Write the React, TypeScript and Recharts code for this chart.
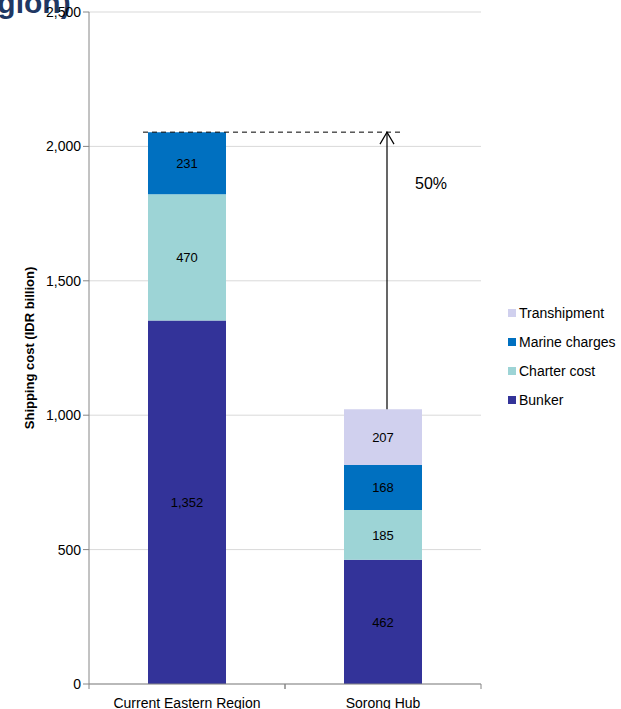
import React from 'react';
import { BarChart, Bar, XAxis, YAxis, CartesianGrid, LabelList, ReferenceLine } from 'recharts';

const categories = ['Current Eastern Region', 'Sorong Hub'];
const bunker = [1352, 462];
const charterCost = [470, 185];
const marineCharges = [231, 168];
const transhipment = [0, 207];
const yTicks = [0, 500, 1000, 1500, 2000, 2500];
const currentTotal = 2053;
const hubTotal = 1022;
const savingLabel = '50%';

const data = categories.map((c, i) => ({
  name: c,
  bunker: bunker[i],
  charter: charterCost[i],
  marine: marineCharges[i],
  tranship: transhipment[i],
}));

const FONT = '"Liberation Sans", Arial, sans-serif';
const COLORS = {
  bunker: '#333399',
  charter: '#9dd4d6',
  marine: '#0070c0',
  tranship: '#d0d0ee',
};

const fmt = (v: any) => (v ? Number(v).toLocaleString('en-US') : '');

const XTick = (props: any) => {
  const { x, y, payload } = props;
  return (
    <g>
      <line x1={x - 98} y1={y - 8} x2={x - 98} y2={y - 3} stroke="#868686" />
      <line x1={x + 98} y1={y - 8} x2={x + 98} y2={y - 3} stroke="#868686" />
      <text x={x} y={y + 16} textAnchor="middle" fontSize={14} fontFamily={FONT} fill="#000">
        {payload.value}
      </text>
    </g>
  );
};

const DashedShape = (props: any) => {
  const { x1, y1, x2, y2 } = props;
  return <line x1={x1 - 44} y1={y1} x2={x2 + 21} y2={y2} stroke="#000" strokeDasharray="5 4" strokeWidth={1} />;
};

const ArrowShape = (props: any) => {
  const { x1, y1, x2, y2 } = props;
  const x = x1 + 4;
  const top = Math.min(y1, y2);
  const bottom = Math.max(y1, y2);
  return (
    <g>
      <line x1={x} y1={bottom} x2={x} y2={top} stroke="#000" strokeWidth={1.2} />
      <polyline points={`${x - 7},${top + 12} ${x},${top} ${x + 7},${top + 12}`} fill="none" stroke="#000" strokeWidth={1.2} />
      <text x={x + 44} y={top + 57} textAnchor="middle" fontSize={16} fontFamily={FONT} fill="#000">
        {savingLabel}
      </text>
    </g>
  );
};

const legendItems = [
  { key: 'tranship', label: 'Transhipment' },
  { key: 'marine', label: 'Marine charges' },
  { key: 'charter', label: 'Charter cost' },
  { key: 'bunker', label: 'Bunker' },
];

export default function App() {
  return (
    <div style={{ position: 'absolute', left: 0, top: 0, width: 621, height: 709, background: '#fff', overflow: 'hidden' }}>
      <svg width={621} height={40} style={{ position: 'absolute', left: 0, top: 0 }}>
        <text x={-41} y={13} fontFamily={FONT} fontWeight="bold" fontSize={30} fill="#1f3864">
          Region)
        </text>
      </svg>
      <BarChart
        width={621}
        height={709}
        data={data}
        margin={{ top: 12, right: 140, bottom: 0, left: 0 }}
        barSize={78}
        style={{ position: 'absolute', left: 0, top: 0 }}
      >
        <CartesianGrid vertical={false} stroke="#d9d9d9" />
        <XAxis
          dataKey="name"
          height={25}
          tickLine={false}
          axisLine={{ stroke: '#868686' }}
          tick={<XTick />}
          interval={0}
        />
        <YAxis
          width={89}
          domain={[0, 2500]}
          ticks={yTicks}
          tickFormatter={(v: number) => v.toLocaleString('en-US')}
          axisLine={{ stroke: '#868686' }}
          tickLine={{ stroke: '#868686' }}
          tickSize={6}
          tick={{ fontSize: 14, fontFamily: FONT, fill: '#000' }}
          label={{
            value: 'Shipping cost (IDR billion)',
            angle: -90,
            position: 'insideLeft',
            dx: 24,
            dy: 0,
            style: { textAnchor: 'middle', fontSize: 13, fontWeight: 'bold', fontFamily: FONT, fill: '#000' },
          }}
        />
        <Bar dataKey="bunker" name="Bunker" stackId="a" fill={COLORS.bunker} isAnimationActive={false}>
          <LabelList dataKey="bunker" position="center" formatter={fmt} style={{ fontSize: 13, fontFamily: FONT, fill: '#000' }} />
        </Bar>
        <Bar dataKey="charter" name="Charter cost" stackId="a" fill={COLORS.charter} isAnimationActive={false}>
          <LabelList dataKey="charter" position="center" formatter={fmt} style={{ fontSize: 13, fontFamily: FONT, fill: '#000' }} />
        </Bar>
        <Bar dataKey="marine" name="Marine charges" stackId="a" fill={COLORS.marine} isAnimationActive={false}>
          <LabelList dataKey="marine" position="center" formatter={fmt} style={{ fontSize: 13, fontFamily: FONT, fill: '#000' }} />
        </Bar>
        <Bar dataKey="tranship" name="Transhipment" stackId="a" fill={COLORS.tranship} isAnimationActive={false}>
          <LabelList dataKey="tranship" position="center" formatter={fmt} style={{ fontSize: 13, fontFamily: FONT, fill: '#000' }} />
        </Bar>
        <ReferenceLine
          segment={[{ x: categories[0], y: currentTotal }, { x: categories[1], y: currentTotal }]}
          shape={<DashedShape />}
          ifOverflow="visible"
        />
        <ReferenceLine
          segment={[{ x: categories[1], y: hubTotal }, { x: categories[1], y: currentTotal }]}
          shape={<ArrowShape />}
          ifOverflow="visible"
        />
      </BarChart>
      <div style={{ position: 'absolute', left: 508, top: 298, fontFamily: FONT, fontSize: 14, color: '#000' }}>
        {legendItems.map((it) => (
          <div key={it.key} style={{ display: 'flex', alignItems: 'center', height: 29 }}>
            <span style={{ display: 'inline-block', width: 8, height: 8, background: (COLORS as any)[it.key], marginRight: 3 }} />
            <span>{it.label}</span>
          </div>
        ))}
      </div>
    </div>
  );
}
